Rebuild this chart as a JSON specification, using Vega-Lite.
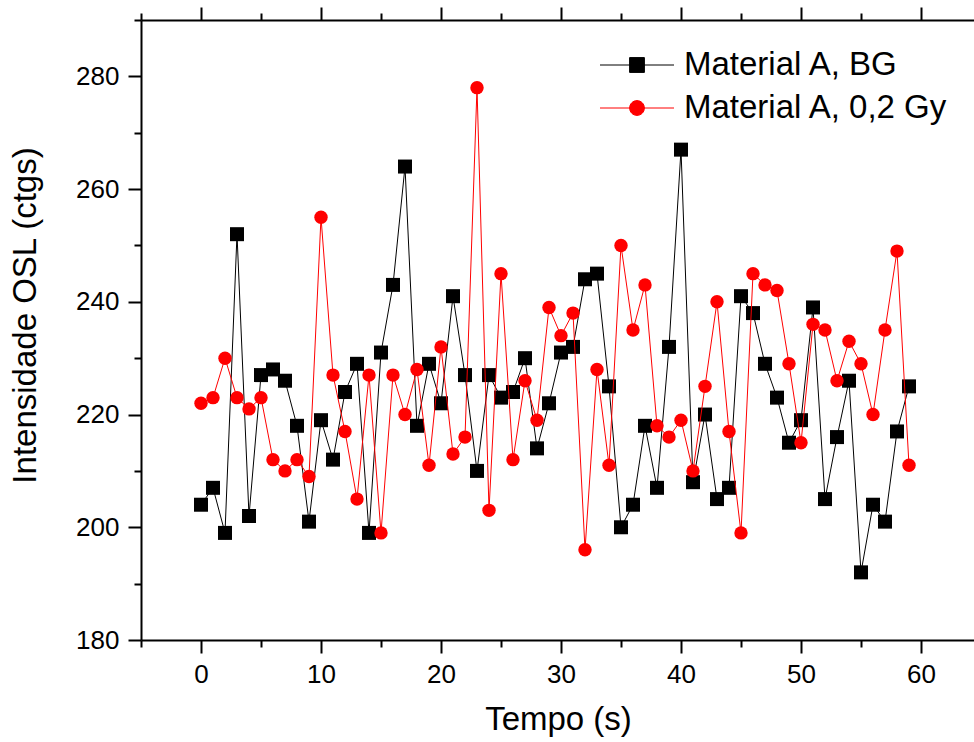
{
  "$schema": "https://vega.github.io/schema/vega-lite/v6.json",
  "autosize": "none",
  "width": 834,
  "height": 620,
  "padding": {"left": 141, "top": 20, "right": 0, "bottom": 102},
  "background": "white",
  "config": {
    "view": {"stroke": null},
    "font": "Liberation Sans",
    "axis": {
      "labelFont": "Liberation Sans", "labelFontSize": 26, "labelColor": "#000",
      "titleFont": "Liberation Sans", "titleFontSize": 33, "titleFontWeight": "normal", "titleColor": "#000",
      "domainColor": "#000", "domainWidth": 2, "tickColor": "#000", "tickWidth": 2,
      "grid": false, "labelOverlap": false, "labelFlush": false
    },
    "legend": {
      "labelFont": "Liberation Sans", "labelFontSize": 33, "labelColor": "#000", "labelLimit": 0
    }
  },
  "resolve": {"axis": {"x": "independent", "y": "independent"}},
  "datasets": {
    "bg": [
      {"t":0,"v":204,"s":"Material A, BG"},{"t":1,"v":207,"s":"Material A, BG"},{"t":2,"v":199,"s":"Material A, BG"},{"t":3,"v":252,"s":"Material A, BG"},{"t":4,"v":202,"s":"Material A, BG"},
      {"t":5,"v":227,"s":"Material A, BG"},{"t":6,"v":228,"s":"Material A, BG"},{"t":7,"v":226,"s":"Material A, BG"},{"t":8,"v":218,"s":"Material A, BG"},{"t":9,"v":201,"s":"Material A, BG"},
      {"t":10,"v":219,"s":"Material A, BG"},{"t":11,"v":212,"s":"Material A, BG"},{"t":12,"v":224,"s":"Material A, BG"},{"t":13,"v":229,"s":"Material A, BG"},{"t":14,"v":199,"s":"Material A, BG"},
      {"t":15,"v":231,"s":"Material A, BG"},{"t":16,"v":243,"s":"Material A, BG"},{"t":17,"v":264,"s":"Material A, BG"},{"t":18,"v":218,"s":"Material A, BG"},{"t":19,"v":229,"s":"Material A, BG"},
      {"t":20,"v":222,"s":"Material A, BG"},{"t":21,"v":241,"s":"Material A, BG"},{"t":22,"v":227,"s":"Material A, BG"},{"t":23,"v":210,"s":"Material A, BG"},{"t":24,"v":227,"s":"Material A, BG"},
      {"t":25,"v":223,"s":"Material A, BG"},{"t":26,"v":224,"s":"Material A, BG"},{"t":27,"v":230,"s":"Material A, BG"},{"t":28,"v":214,"s":"Material A, BG"},{"t":29,"v":222,"s":"Material A, BG"},
      {"t":30,"v":231,"s":"Material A, BG"},{"t":31,"v":232,"s":"Material A, BG"},{"t":32,"v":244,"s":"Material A, BG"},{"t":33,"v":245,"s":"Material A, BG"},{"t":34,"v":225,"s":"Material A, BG"},
      {"t":35,"v":200,"s":"Material A, BG"},{"t":36,"v":204,"s":"Material A, BG"},{"t":37,"v":218,"s":"Material A, BG"},{"t":38,"v":207,"s":"Material A, BG"},{"t":39,"v":232,"s":"Material A, BG"},
      {"t":40,"v":267,"s":"Material A, BG"},{"t":41,"v":208,"s":"Material A, BG"},{"t":42,"v":220,"s":"Material A, BG"},{"t":43,"v":205,"s":"Material A, BG"},{"t":44,"v":207,"s":"Material A, BG"},
      {"t":45,"v":241,"s":"Material A, BG"},{"t":46,"v":238,"s":"Material A, BG"},{"t":47,"v":229,"s":"Material A, BG"},{"t":48,"v":223,"s":"Material A, BG"},{"t":49,"v":215,"s":"Material A, BG"},
      {"t":50,"v":219,"s":"Material A, BG"},{"t":51,"v":239,"s":"Material A, BG"},{"t":52,"v":205,"s":"Material A, BG"},{"t":53,"v":216,"s":"Material A, BG"},{"t":54,"v":226,"s":"Material A, BG"},
      {"t":55,"v":192,"s":"Material A, BG"},{"t":56,"v":204,"s":"Material A, BG"},{"t":57,"v":201,"s":"Material A, BG"},{"t":58,"v":217,"s":"Material A, BG"},{"t":59,"v":225,"s":"Material A, BG"}
    ],
    "gy": [
      {"t":0,"v":222,"s":"Material A, 0,2 Gy"},{"t":1,"v":223,"s":"Material A, 0,2 Gy"},{"t":2,"v":230,"s":"Material A, 0,2 Gy"},{"t":3,"v":223,"s":"Material A, 0,2 Gy"},{"t":4,"v":221,"s":"Material A, 0,2 Gy"},
      {"t":5,"v":223,"s":"Material A, 0,2 Gy"},{"t":6,"v":212,"s":"Material A, 0,2 Gy"},{"t":7,"v":210,"s":"Material A, 0,2 Gy"},{"t":8,"v":212,"s":"Material A, 0,2 Gy"},{"t":9,"v":209,"s":"Material A, 0,2 Gy"},
      {"t":10,"v":255,"s":"Material A, 0,2 Gy"},{"t":11,"v":227,"s":"Material A, 0,2 Gy"},{"t":12,"v":217,"s":"Material A, 0,2 Gy"},{"t":13,"v":205,"s":"Material A, 0,2 Gy"},{"t":14,"v":227,"s":"Material A, 0,2 Gy"},
      {"t":15,"v":199,"s":"Material A, 0,2 Gy"},{"t":16,"v":227,"s":"Material A, 0,2 Gy"},{"t":17,"v":220,"s":"Material A, 0,2 Gy"},{"t":18,"v":228,"s":"Material A, 0,2 Gy"},{"t":19,"v":211,"s":"Material A, 0,2 Gy"},
      {"t":20,"v":232,"s":"Material A, 0,2 Gy"},{"t":21,"v":213,"s":"Material A, 0,2 Gy"},{"t":22,"v":216,"s":"Material A, 0,2 Gy"},{"t":23,"v":278,"s":"Material A, 0,2 Gy"},{"t":24,"v":203,"s":"Material A, 0,2 Gy"},
      {"t":25,"v":245,"s":"Material A, 0,2 Gy"},{"t":26,"v":212,"s":"Material A, 0,2 Gy"},{"t":27,"v":226,"s":"Material A, 0,2 Gy"},{"t":28,"v":219,"s":"Material A, 0,2 Gy"},{"t":29,"v":239,"s":"Material A, 0,2 Gy"},
      {"t":30,"v":234,"s":"Material A, 0,2 Gy"},{"t":31,"v":238,"s":"Material A, 0,2 Gy"},{"t":32,"v":196,"s":"Material A, 0,2 Gy"},{"t":33,"v":228,"s":"Material A, 0,2 Gy"},{"t":34,"v":211,"s":"Material A, 0,2 Gy"},
      {"t":35,"v":250,"s":"Material A, 0,2 Gy"},{"t":36,"v":235,"s":"Material A, 0,2 Gy"},{"t":37,"v":243,"s":"Material A, 0,2 Gy"},{"t":38,"v":218,"s":"Material A, 0,2 Gy"},{"t":39,"v":216,"s":"Material A, 0,2 Gy"},
      {"t":40,"v":219,"s":"Material A, 0,2 Gy"},{"t":41,"v":210,"s":"Material A, 0,2 Gy"},{"t":42,"v":225,"s":"Material A, 0,2 Gy"},{"t":43,"v":240,"s":"Material A, 0,2 Gy"},{"t":44,"v":217,"s":"Material A, 0,2 Gy"},
      {"t":45,"v":199,"s":"Material A, 0,2 Gy"},{"t":46,"v":245,"s":"Material A, 0,2 Gy"},{"t":47,"v":243,"s":"Material A, 0,2 Gy"},{"t":48,"v":242,"s":"Material A, 0,2 Gy"},{"t":49,"v":229,"s":"Material A, 0,2 Gy"},
      {"t":50,"v":215,"s":"Material A, 0,2 Gy"},{"t":51,"v":236,"s":"Material A, 0,2 Gy"},{"t":52,"v":235,"s":"Material A, 0,2 Gy"},{"t":53,"v":226,"s":"Material A, 0,2 Gy"},{"t":54,"v":233,"s":"Material A, 0,2 Gy"},
      {"t":55,"v":229,"s":"Material A, 0,2 Gy"},{"t":56,"v":220,"s":"Material A, 0,2 Gy"},{"t":57,"v":235,"s":"Material A, 0,2 Gy"},{"t":58,"v":249,"s":"Material A, 0,2 Gy"},{"t":59,"v":211,"s":"Material A, 0,2 Gy"}
    ]
  },
  "layer": [
    {
      "data": {"name": "bg"},
      "mark": {"type": "line", "strokeWidth": 1},
      "encoding": {
        "x": {"field": "t", "type": "quantitative", "scale": {"domain": [-5, 64.5], "nice": false, "zero": false},
          "axis": {"orient": "bottom", "title": "Tempo (s)", "values": [0,10,20,30,40,50,60],
            "tickSize": 13, "labelPadding": 8, "titlePadding": 16}},
        "y": {"field": "v", "type": "quantitative", "scale": {"domain": [180, 290], "nice": false, "zero": false},
          "axis": {"orient": "left", "title": "Intensidade OSL (ctgs)", "values": [180,200,220,240,260,280],
            "tickSize": 13, "labelPadding": 9, "titlePadding": 33, "titleY": 295}},
        "color": {"field": "s", "type": "nominal",
          "scale": {"domain": ["Material A, BG", "Material A, 0,2 Gy"], "range": ["#000000", "#ff0000"]},
          "legend": {"orient": "none", "legendX": 477, "legendY": 26, "title": null,
            "symbolSize": 1369, "symbolStrokeWidth": 1, "labelOffset": 28, "rowPadding": 7,
            "encode": {"symbols": {"update": {
              "shape": {"signal": "datum.value === 'Material A, BG' ? 'M-2,0H2M-0.4,-0.4H0.4V0.4H-0.4Z' : 'M-2,0H2M0.4,0A0.4,0.4,0,1,1,-0.4,0A0.4,0.4,0,1,1,0.4,0Z'"},
              "fill": {"signal": "datum.value === 'Material A, BG' ? '#000000' : '#ff0000'"},
              "stroke": {"signal": "datum.value === 'Material A, BG' ? '#000000' : '#ff0000'"},
              "strokeWidth": {"value": 1},
              "opacity": {"value": 1}
            }}}}}
      }
    },
    {
      "data": {"name": "bg"},
      "mark": {"type": "point", "shape": "square", "filled": true, "opacity": 1, "strokeWidth": 0, "size": 196},
      "encoding": {
        "x": {"field": "t", "type": "quantitative",
          "axis": {"orient": "bottom", "title": null, "labels": false, "domain": false,
            "values": [-5,5,15,25,35,45,55], "tickSize": 7}},
        "y": {"field": "v", "type": "quantitative",
          "axis": {"orient": "left", "title": null, "labels": false, "domain": false,
            "values": [190,210,230,250,270,290], "tickSize": 7}},
        "color": {"field": "s", "type": "nominal"}
      }
    },
    {
      "data": {"name": "gy"},
      "mark": {"type": "line", "strokeWidth": 1},
      "encoding": {
        "x": {"field": "t", "type": "quantitative",
          "axis": {"orient": "top", "title": null, "labels": false, "values": [0,10,20,30,40,50,60], "tickSize": 13}},
        "y": {"field": "v", "type": "quantitative", "axis": null},
        "color": {"field": "s", "type": "nominal"}
      }
    },
    {
      "data": {"name": "gy"},
      "mark": {"type": "point", "shape": "circle", "filled": true, "opacity": 1, "strokeWidth": 0, "size": 180},
      "encoding": {
        "x": {"field": "t", "type": "quantitative",
          "axis": {"orient": "top", "title": null, "labels": false, "domain": false, "values": [-5,5,15,25,35,45,55], "tickSize": 7}},
        "y": {"field": "v", "type": "quantitative", "axis": null},
        "color": {"field": "s", "type": "nominal"}
      }
    }
  ]
}
